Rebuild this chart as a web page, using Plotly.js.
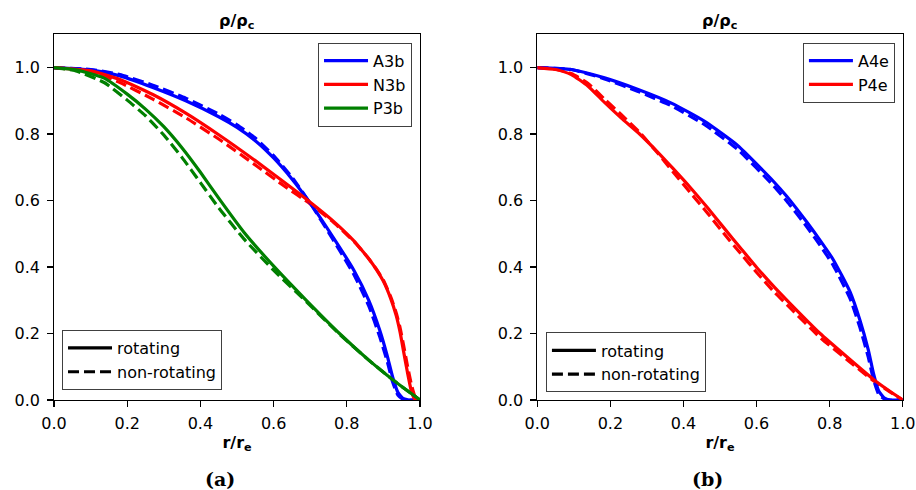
<!DOCTYPE html>
<html><head><meta charset="utf-8">
<script src="https://cdn.plot.ly/plotly-3.0.1.min.js"></script>
<style>html,body{margin:0;padding:0;background:#fff}</style>
</head><body><div id="chart" style="width:916px;height:490px"></div>
<script>
// ---- Panel (a) ----
const xA3b = [0, 0.1, 0.18, 0.27, 0.36, 0.45, 0.50, 0.55, 0.60, 0.65, 0.70, 0.76, 0.82, 0.86, 0.89, 0.91, 0.925, 0.94, 0.955, 0.97, 1.0];
const yA3bRot = [1.0, 0.993, 0.975, 0.94, 0.90, 0.852, 0.82, 0.78, 0.728, 0.665, 0.592, 0.494, 0.389, 0.30, 0.21, 0.135, 0.07, 0.022, 0.004, 0, 0];
const yA3bNon = [1.0, 0.994, 0.979, 0.947, 0.908, 0.86, 0.828, 0.788, 0.735, 0.67, 0.592, 0.487, 0.376, 0.283, 0.19, 0.118, 0.055, 0.014, 0.002, 0, 0];

const xN3b = [0, 0.1, 0.18, 0.27, 0.36, 0.45, 0.55, 0.63, 0.70, 0.76, 0.82, 0.84, 0.86, 0.88, 0.90, 0.92, 0.935, 0.945, 0.955, 0.965, 0.977, 0.986, 1.0];
const yN3bRot = [1.0, 0.99, 0.964, 0.919, 0.863, 0.798, 0.72, 0.654, 0.595, 0.541, 0.478, 0.452, 0.425, 0.394, 0.357, 0.305, 0.254, 0.207, 0.147, 0.087, 0.024, 0.002, 0];
const yN3bNon = [1.0, 0.988, 0.955, 0.905, 0.849, 0.785, 0.707, 0.643, 0.59, 0.538, 0.476, 0.451, 0.425, 0.395, 0.36, 0.31, 0.262, 0.22, 0.165, 0.107, 0.044, 0.012, 0];

const xP3b = [0, 0.06, 0.137, 0.2, 0.25, 0.30, 0.35, 0.40, 0.45, 0.52, 0.604, 0.69, 0.78, 0.86, 0.93, 1.0];
const yP3bRot = [1.0, 0.993, 0.968, 0.92, 0.875, 0.822, 0.758, 0.685, 0.607, 0.503, 0.398, 0.299, 0.20, 0.12, 0.057, 0.0];
const yP3bNon = [1.0, 0.99, 0.955, 0.902, 0.855, 0.797, 0.729, 0.654, 0.578, 0.483, 0.386, 0.295, 0.198, 0.12, 0.057, 0.0];

// ---- Panel (b) ----
const xA4e = [0, 0.093, 0.184, 0.276, 0.367, 0.458, 0.549, 0.646, 0.683, 0.737, 0.774, 0.81, 0.856, 0.883, 0.906, 0.92, 0.934, 0.95, 0.965, 1.0];
const yA4eRot = [1.0, 0.994, 0.969, 0.934, 0.893, 0.838, 0.765, 0.658, 0.612, 0.536, 0.48, 0.422, 0.325, 0.24, 0.15, 0.08, 0.028, 0.006, 0, 0];
const yA4eNon = [1.0, 0.994, 0.966, 0.928, 0.885, 0.828, 0.753, 0.645, 0.598, 0.522, 0.465, 0.405, 0.305, 0.218, 0.128, 0.062, 0.018, 0.003, 0, 0];

const xP4e = [0, 0.05, 0.093, 0.139, 0.184, 0.23, 0.28, 0.33, 0.37, 0.418, 0.466, 0.509, 0.56, 0.601, 0.65, 0.692, 0.774, 0.847, 0.92, 0.96, 1.0];
const yP4eRot = [1.0, 0.994, 0.979, 0.944, 0.895, 0.848, 0.80, 0.745, 0.698, 0.64, 0.578, 0.52, 0.452, 0.398, 0.338, 0.29, 0.2, 0.13, 0.062, 0.03, 0.0];
const yP4eNon = [1.0, 0.995, 0.982, 0.952, 0.905, 0.858, 0.805, 0.742, 0.688, 0.625, 0.562, 0.503, 0.436, 0.383, 0.323, 0.277, 0.188, 0.122, 0.058, 0.028, 0.0];

const xTicks = [0, 0.2, 0.4, 0.6, 0.8, 1.0];
const yTicks = [0, 0.2, 0.4, 0.6, 0.8, 1.0];
const styleNames = ['rotating', 'non-rotating'];

const BLUE = '#0000ff', RED = '#ff0000', GREEN = '#008000';
const LW = 3.2, DASH = '11px,5px';
const FONT = 'DejaVu Sans, sans-serif';

function curve(x, y, color, name, dashed, xa, ya, legend, showlegend) {
  return {
    type: 'scatter', mode: 'lines', x: x, y: y, name: name,
    xaxis: xa, yaxis: ya, legend: legend, showlegend: showlegend,
    line: {color: color, width: LW, dash: dashed ? DASH : 'solid', shape: 'spline', smoothing: 0.5},
    hoverinfo: 'skip'
  };
}
function proxy(name, dashed, xa, ya, legend) {
  return {
    type: 'scatter', mode: 'lines', x: [null], y: [null], name: name,
    xaxis: xa, yaxis: ya, legend: legend, showlegend: true,
    line: {color: '#000', width: LW, dash: dashed ? DASH : 'solid'}, hoverinfo: 'skip'
  };
}

const data = [
  curve(xA3b, yA3bNon, BLUE, 'A3b-n', true, 'x', 'y', 'legend', false),
  curve(xN3b, yN3bNon, RED, 'N3b-n', true, 'x', 'y', 'legend', false),
  curve(xP3b, yP3bNon, GREEN, 'P3b-n', true, 'x', 'y', 'legend', false),
  curve(xA3b, yA3bRot, BLUE, 'A3b', false, 'x', 'y', 'legend', true),
  curve(xN3b, yN3bRot, RED, 'N3b', false, 'x', 'y', 'legend', true),
  curve(xP3b, yP3bRot, GREEN, 'P3b', false, 'x', 'y', 'legend', true),
  proxy(styleNames[0], false, 'x', 'y', 'legend2'),
  proxy(styleNames[1], true, 'x', 'y', 'legend2'),

  curve(xA4e, yA4eNon, BLUE, 'A4e-n', true, 'x2', 'y2', 'legend3', false),
  curve(xP4e, yP4eNon, RED, 'P4e-n', true, 'x2', 'y2', 'legend3', false),
  curve(xA4e, yA4eRot, BLUE, 'A4e', false, 'x2', 'y2', 'legend3', true),
  curve(xP4e, yP4eRot, RED, 'P4e', false, 'x2', 'y2', 'legend3', true),
  proxy(styleNames[0], false, 'x2', 'y2', 'legend4'),
  proxy(styleNames[1], true, 'x2', 'y2', 'legend4')
];

function xaxis(domain, anchor) {
  return {
    domain: domain, anchor: anchor, range: [0, 1], tickvals: xTicks, ticktext: xTicks.map(v => v.toFixed(1)),
    ticks: 'outside', ticklen: 5.5, tickwidth: 1.3, tickcolor: '#000',
    showline: true, linecolor: '#000', linewidth: 1.3, mirror: true,
    showgrid: false, zeroline: false, ticklabelstandoff: 3,
    tickfont: {family: FONT, size: 16, color: '#000'},
    title: {text: '<b>r/r<sub>e</sub></b>', font: {family: FONT, size: 16, color: '#000'}, standoff: 4}
  };
}
function yaxis(anchor) {
  return {
    domain: [0.18367, 0.93], anchor: anchor, range: [0, 1.1], tickvals: yTicks, ticktext: yTicks.map(v => v.toFixed(1)),
    ticks: 'outside', ticklen: 5.5, tickwidth: 1.3, tickcolor: '#000',
    showline: true, linecolor: '#000', linewidth: 1.3, mirror: true,
    showgrid: false, zeroline: false, ticklabelstandoff: 4,
    tickfont: {family: FONT, size: 16, color: '#000'}
  };
}
function legendBox(x, y, xanchor, yanchor) {
  return {
    x: x, y: y, xref: 'paper', yref: 'paper', xanchor: xanchor, yanchor: yanchor,
    bgcolor: 'rgba(255,255,255,0.8)', bordercolor: '#404040', borderwidth: 1,
    font: {family: FONT, size: 16, color: '#000'}, itemwidth: 44, itemclick: false
  };
}

const layout = {
  width: 916, height: 490, margin: {l: 0, r: 0, t: 0, b: 0},
  paper_bgcolor: '#fff', plot_bgcolor: '#fff', font: {family: FONT, color: '#000'},
  xaxis: xaxis([0.05895, 0.45852], 'y'),
  yaxis: yaxis('x'),
  xaxis2: xaxis([0.58657, 0.98548], 'y2'),
  yaxis2: yaxis('x2'),
  legend: legendBox(0.4498, 0.913, 'right', 'top'),
  legend2: legendBox(0.0677, 0.204, 'left', 'bottom'),
  legend3: legendBox(0.977, 0.913, 'right', 'top'),
  legend4: legendBox(0.596, 0.199, 'left', 'bottom'),
  annotations: [
    {text: '<b>ρ/ρ<sub>c</sub></b>', x: 0.2587, y: 0.957, xref: 'paper', yref: 'paper', showarrow: false,
     xanchor: 'center', yanchor: 'middle', font: {family: FONT, size: 16, color: '#000'}},
    {text: '<b>ρ/ρ<sub>c</sub></b>', x: 0.786, y: 0.957, xref: 'paper', yref: 'paper', showarrow: false,
     xanchor: 'center', yanchor: 'middle', font: {family: FONT, size: 16, color: '#000'}},
    {text: '<b>(a)</b>', x: 0.2402, y: 0.0225, xref: 'paper', yref: 'paper', showarrow: false,
     xanchor: 'center', yanchor: 'middle', font: {family: 'DejaVu Serif, serif', size: 19, color: '#000'}},
    {text: '<b>(b)</b>', x: 0.7729, y: 0.0225, xref: 'paper', yref: 'paper', showarrow: false,
     xanchor: 'center', yanchor: 'middle', font: {family: 'DejaVu Serif, serif', size: 19, color: '#000'}}
  ]
};

Plotly.newPlot('chart', data, layout, {staticPlot: true, displayModeBar: false});
</script>
</body></html>
